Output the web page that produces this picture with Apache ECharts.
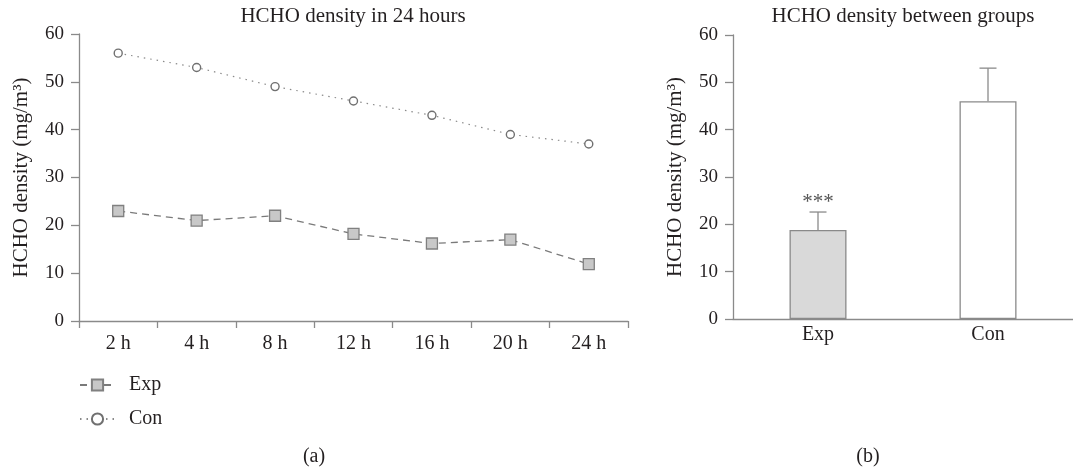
<!DOCTYPE html>
<html><head><meta charset="utf-8">
<script src="https://cdn.jsdelivr.net/npm/echarts@6/dist/echarts.min.js"></script>
<style>html,body{margin:0;padding:0;background:#fff}#c{width:1073px;height:470px}</style>
</head><body><div id="c"></div>
<script>
const hours = ['2 h','4 h','8 h','12 h','16 h','20 h','24 h'];
const expSeries = [23, 21, 22, 18.2, 16.2, 17, 11.9];
const conSeries = [56, 53, 49, 46, 43, 39, 37];
const groups = ['Exp','Con'];
const groupMeans = [18.8, 46];
const groupErr = [3.8, 7];
const groupMarks = ['***',''];
const yTicks = [0,10,20,30,40,50,60];

const FONT = 'Liberation Serif';
const TXT = '#231f20';
const AX = '#8a8a8a';
const chart = echarts.init(document.getElementById('c'));
const yAxisCommon = {
  type:'value', min:yTicks[0], max:yTicks[yTicks.length-1], interval:10,
  name:'HCHO density (mg/m³)', nameLocation:'middle', nameGap:47,
  nameTextStyle:{fontFamily:FONT,fontSize:21,color:TXT},
  axisLine:{show:true,lineStyle:{color:AX,width:1.3}},
  axisTick:{show:true,length:8,lineStyle:{color:AX,width:1.3}},
  axisLabel:{fontFamily:FONT,fontSize:19,color:TXT,margin:15},
  splitLine:{show:false}
};
chart.setOption({
  animation:false,
  grid:[
    {left:79,top:34,width:549,height:287},
    {left:733,top:35,width:349,height:284}
  ],
  xAxis:[
    {type:'category',gridIndex:0,data:hours,boundaryGap:true,
     axisLine:{lineStyle:{color:AX,width:1.3}},
     axisTick:{show:true,length:7,alignWithLabel:false,lineStyle:{color:AX,width:1.3}},
     axisLabel:{fontFamily:FONT,fontSize:20,color:TXT,margin:13}},
    {type:'category',gridIndex:1,data:groups,
     axisLine:{lineStyle:{color:AX,width:1.3}},
     axisTick:{show:false},
     axisLabel:{fontFamily:FONT,fontSize:20,color:TXT,margin:6}}
  ],
  yAxis:[
    Object.assign({gridIndex:0},yAxisCommon),
    Object.assign({gridIndex:1},yAxisCommon)
  ],
  legend:{
    orient:'vertical',left:79,top:375,padding:0,itemWidth:35,itemHeight:14,itemGap:14,
    textStyle:{fontFamily:FONT,fontSize:20,color:TXT,padding:[0,0,0,9]},
    data:['Exp','Con']
  },
  series:[
    {name:'Exp',type:'line',xAxisIndex:0,yAxisIndex:0,data:expSeries,
     symbol:'rect',symbolSize:11,
     itemStyle:{color:'#c8c8c8',borderColor:'#808080',borderWidth:1.3},
     lineStyle:{color:'#7a7a7a',width:1.3,type:[7,5]}},
    {name:'Con',type:'line',xAxisIndex:0,yAxisIndex:0,data:conSeries,
     symbol:'circle',symbolSize:8,
     itemStyle:{color:'#fff',borderColor:'#707070',borderWidth:1.4},
     lineStyle:{color:'#8a8a8a',width:1.2,type:[1.5,5]}},
    {type:'bar',xAxisIndex:1,yAxisIndex:1,barWidth:57,
     data:groupMeans.map((v,i)=>({value:v,itemStyle:{color:i===0?'#d9d9d9':'#ffffff'}})),
     itemStyle:{borderColor:'#8a8a8a',borderWidth:1.3}},
    {type:'custom',xAxisIndex:1,yAxisIndex:1,
     data:groupMeans.map((v,i)=>[i,v,v+groupErr[i]]),
     renderItem:function(params,api){
       const b=api.coord([api.value(0),api.value(1)]);
       const t=api.coord([api.value(0),api.value(2)]);
       const hw=8.5;
       const st={stroke:'#8a8a8a',lineWidth:1.3};
       const children=[
         {type:'line',shape:{x1:b[0],y1:b[1],x2:t[0],y2:t[1]},style:st},
         {type:'line',shape:{x1:t[0]-hw,y1:t[1],x2:t[0]+hw,y2:t[1]},style:st}
       ];
       const m=groupMarks[params.dataIndex];
       if(m){children.push({type:'text',style:{text:m,x:t[0],y:t[1]+1,align:'center',verticalAlign:'bottom',font:'21px "'+FONT+'"',fill:'#555'}});}
       return {type:'group',children:children};
     }}
  ],
  graphic:[
    {type:'text',style:{text:'HCHO density in 24 hours',x:353,y:16,align:'center',verticalAlign:'middle',font:'21px "'+FONT+'"',fill:TXT}},
    {type:'text',style:{text:'HCHO density between groups',x:903,y:16,align:'center',verticalAlign:'middle',font:'21px "'+FONT+'"',fill:TXT}},
    {type:'text',style:{text:'(a)',x:314,y:457,align:'center',verticalAlign:'middle',font:'20px "'+FONT+'"',fill:TXT}},
    {type:'text',style:{text:'(b)',x:868,y:457,align:'center',verticalAlign:'middle',font:'20px "'+FONT+'"',fill:TXT}}
  ]
});
</script></body></html>
